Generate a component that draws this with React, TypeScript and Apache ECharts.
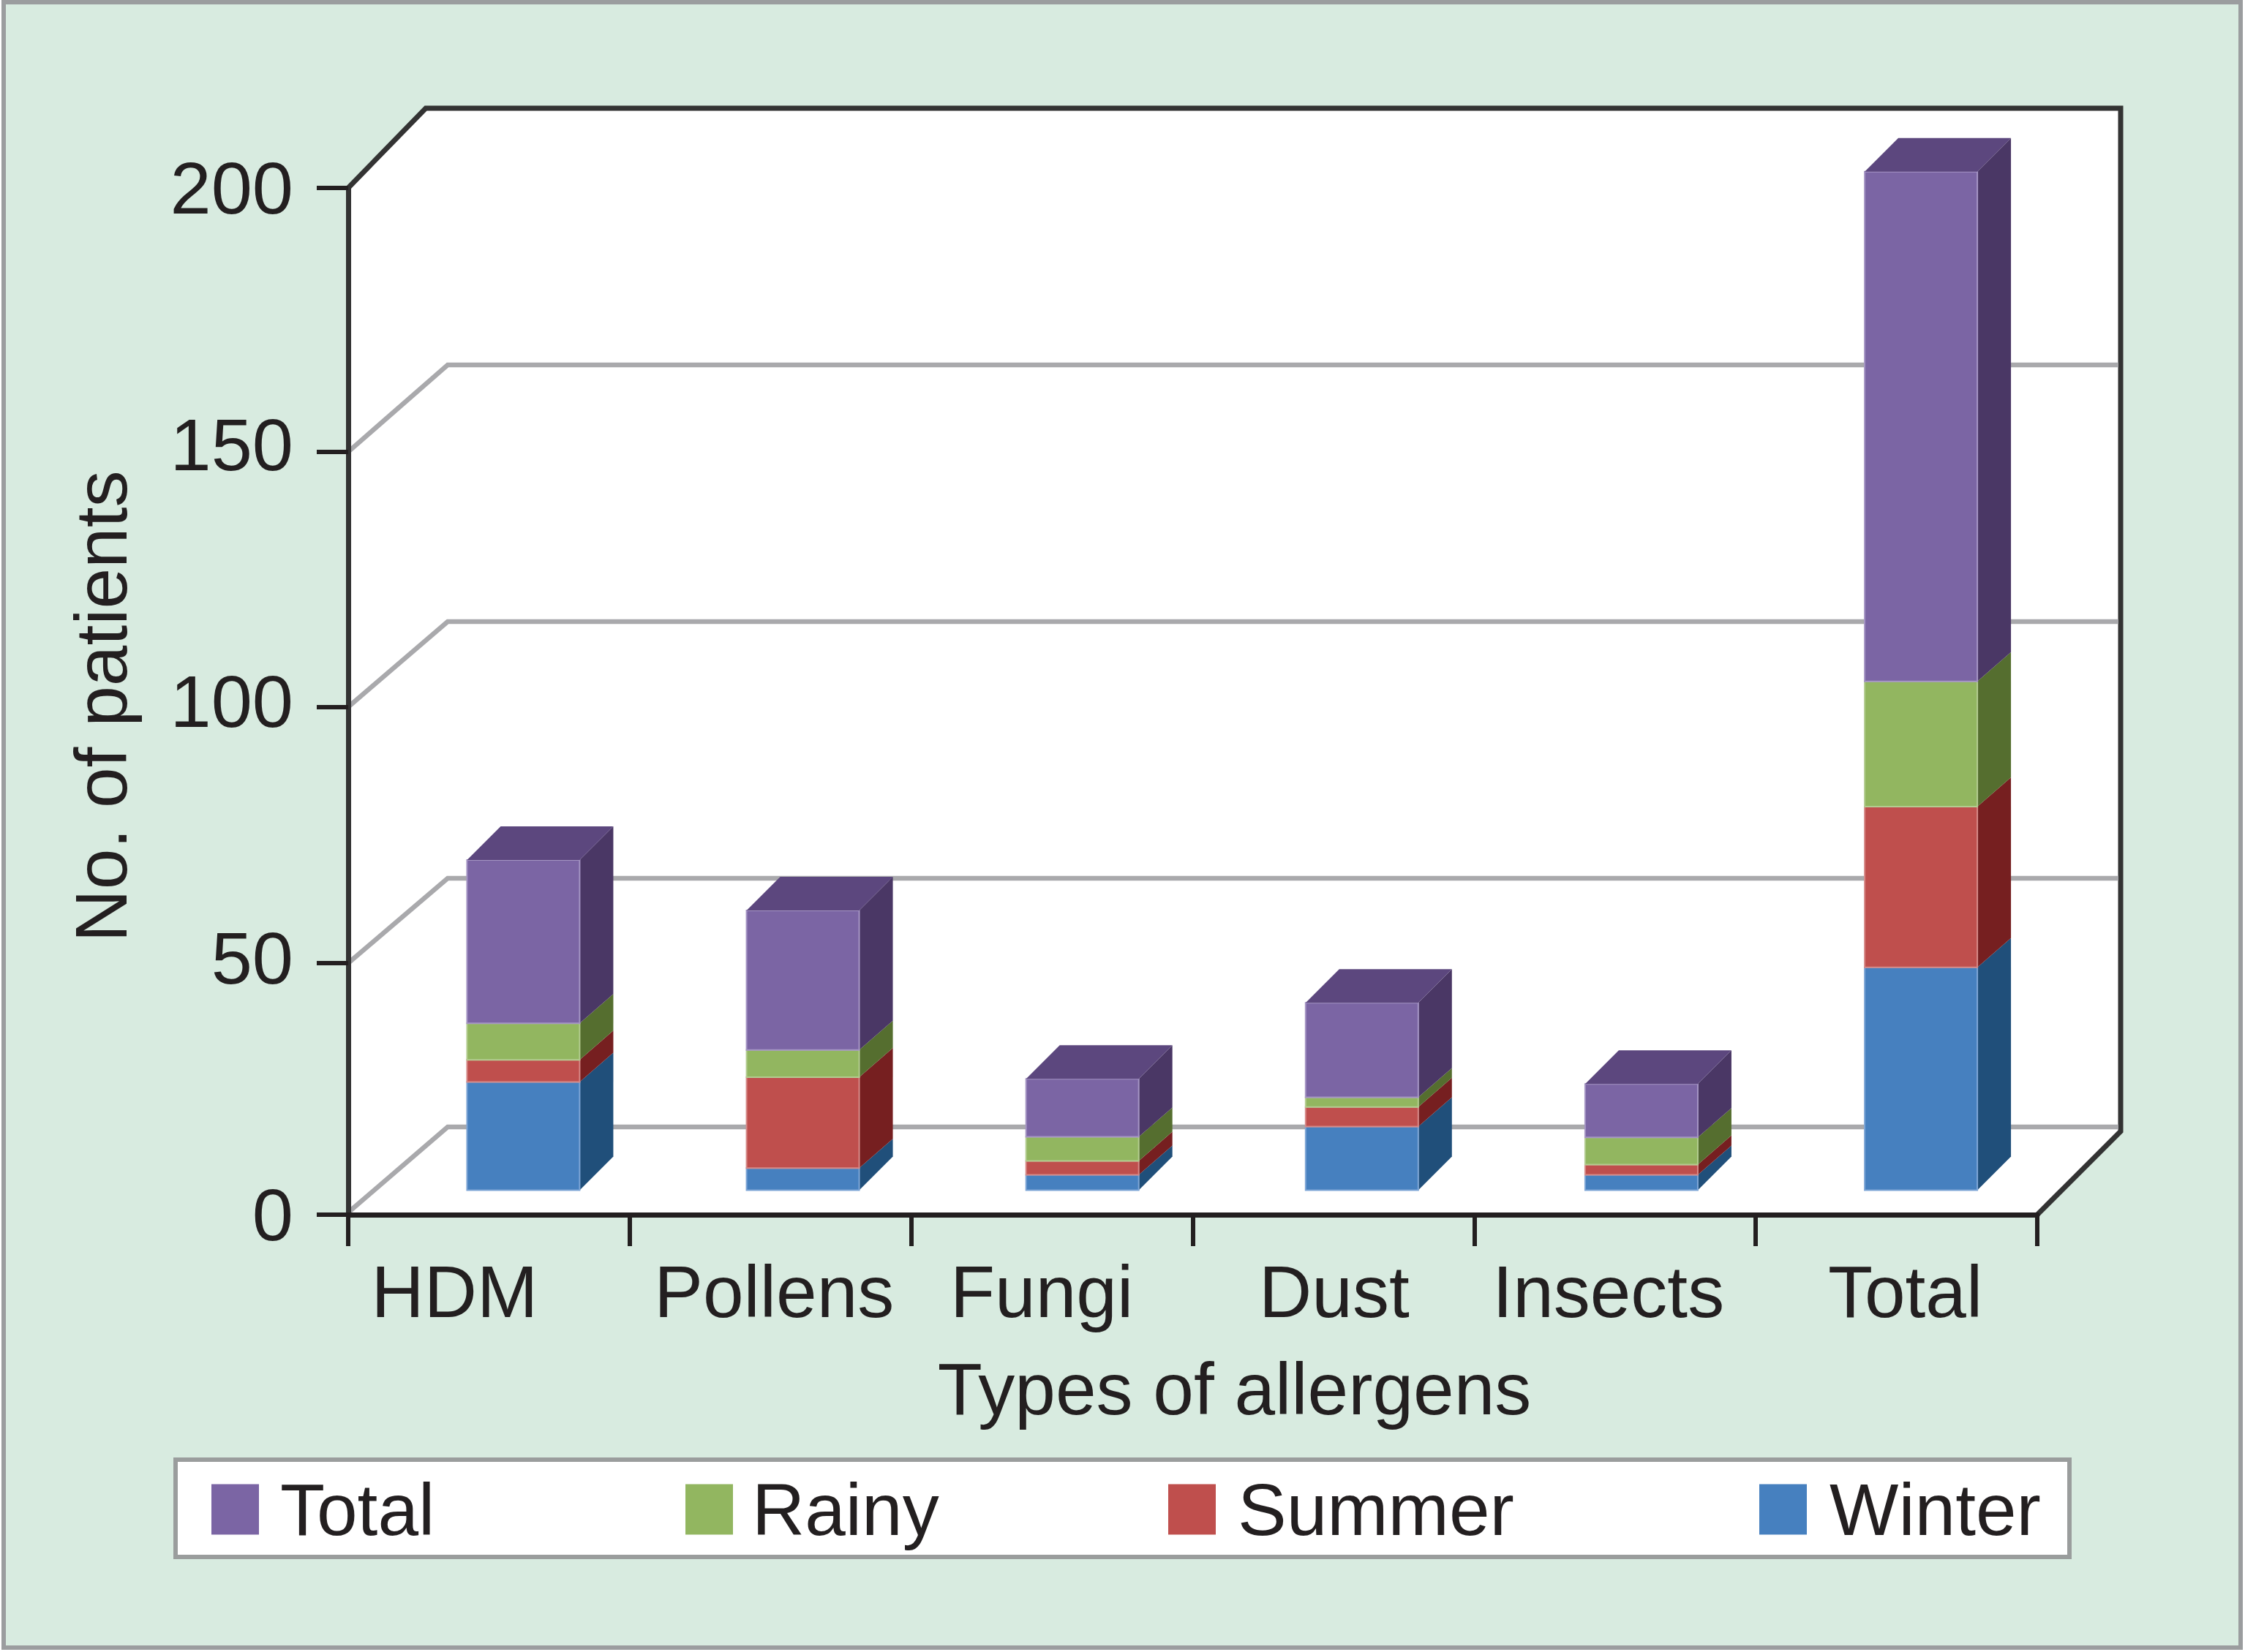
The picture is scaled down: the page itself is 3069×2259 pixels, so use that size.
import React, { useEffect, useRef } from "react";
import * as echarts from "echarts";

const categories = ["HDM", "Pollens", "Fungi", "Dust", "Insects", "Total"];
const winter = [21.1, 4.3, 3.0, 12.4, 3.0, 43.4];
const summer = [4.3, 17.7, 2.7, 3.8, 2.0, 31.3];
const rainy = [7.1, 5.3, 4.7, 1.9, 5.3, 24.4];
const totalSeason = [31.8, 27.2, 11.3, 18.4, 10.4, 99.3];
const gridValues = [200, 150, 100, 50, 0];
const tickValues = [200, 148.6, 98.9, 49, 0];

const labelShifts = [-47, 5, -14, 1, -9, 12];
const FONT = "Liberation Sans";
const INK = "#231f20";
const FRAME = "#333333";
const GRID = "#a9a9ac";

const palette: Record<string, { front: string; side: string; top: string; edge: string }> = {
  Winter: { front: "#4680bf", side: "#204f7a", top: "#204f7a", edge: "#7ea6d6" },
  Summer: { front: "#bf4f4d", side: "#761f20", top: "#761f20", edge: "#d68a88" },
  Rainy: { front: "#92b660", side: "#556e2f", top: "#556e2f", edge: "#b3cc90" },
  Total: { front: "#7b65a4", side: "#4a3765", top: "#5c477e", edge: "#a595c4" },
};

const stackOrder: [string, number[]][] = [
  ["Winter", winter],
  ["Summer", summer],
  ["Rainy", rainy],
  ["Total", totalSeason],
];

const BACK_DX = 136;
const BACK_DY = -109;
const BAR_DY = -33.5;
const BAR_W = 154;
const DEPTH_X = 46;
const DEPTH_END = -46;
const DEPTH_JOINT = -40;

function wallItem(params: any, api: any) {
  const cs = params.coordSys;
  const v = api.value(1);
  const y = api.coord([0, v])[1];
  const tickY = api.coord([0, api.value(2)])[1];
  const left = cs.x;
  const right = cs.x + cs.width;
  const bottom = cs.y + cs.height;
  const wallRight = 2899;
  if (v === 200) {
    const topY = y - 109;
    return {
      type: "group",
      children: [
        {
          type: "polygon",
          shape: {
            points: [
              [left, y],
              [left + 106, topY],
              [wallRight, topY],
              [wallRight, 1547],
              [right, bottom],
              [left, bottom],
            ],
          },
          style: { fill: "#ffffff" },
        },
        {
          type: "polyline",
          shape: { points: [[left, y], [left + 106, topY], [wallRight, topY], [wallRight, 1547], [right, bottom]] },
          style: { fill: "none", stroke: FRAME, lineWidth: 7 },
        },
      ],
    };
  }
  const backY = v === 0 ? bottom - 120 : y + BACK_DY;
  const startY = v === 0 ? bottom - 3 : tickY;
  return {
    type: "polyline",
    shape: { points: [[left, startY], [left + BACK_DX, backY], [wallRight - 3, backY]] },
    style: { fill: "none", stroke: GRID, lineWidth: 6.5 },
  };
}

function barItem(params: any, api: any) {
  const p = palette[params.seriesName];
  const isTop = params.seriesName === "Total";
  const isBottom = params.seriesName === "Winter";
  const cat = api.value(0);
  const base = api.coord([cat, api.value(1)]);
  const top = api.coord([cat, api.value(2)]);
  const offsetX = 47 - (13.5 * (base[0] - 668)) / 1924;
  const x0 = base[0] + offsetX - BAR_W / 2;
  const x1 = x0 + BAR_W;
  const yb = base[1] + BAR_DY;
  const yt = top[1] + BAR_DY;
  const dyBottom = isBottom ? DEPTH_END : DEPTH_JOINT;
  const dyTop = isTop ? DEPTH_END : DEPTH_JOINT;
  const children: any[] = [
    {
      type: "polygon",
      shape: { points: [[x1, yb], [x1 + DEPTH_X, yb + dyBottom], [x1 + DEPTH_X, yt + dyTop], [x1, yt]] },
      style: { fill: p.side },
    },
    {
      type: "rect",
      shape: { x: x0, y: yt, width: BAR_W, height: yb - yt },
      style: { fill: p.front, stroke: p.edge, lineWidth: 2 },
    },
  ];
  if (isTop) {
    children.push({
      type: "polygon",
      shape: { points: [[x0, yt], [x0 + DEPTH_X, yt + DEPTH_END], [x1 + DEPTH_X, yt + DEPTH_END], [x1, yt]] },
      style: { fill: p.top },
    });
  }
  return { type: "group", children };
}

function buildBarSeries() {
  const running = categories.map(() => 0);
  return stackOrder.map(([name, values]) => {
    const data = values.map((v, i) => {
      const row = [i, running[i], running[i] + v];
      running[i] += v;
      return row;
    });
    return {
      type: "custom",
      name,
      z: 3,
      coordinateSystem: "cartesian2d",
      renderItem: barItem,
      encode: { x: 0, y: [1, 2] },
      itemStyle: { color: palette[name].front },
      data,
      silent: true,
    };
  });
}

function legendEntry(name: string, left: number, textGap: number) {
  return {
    data: [name],
    left,
    top: 2014,
    padding: 0,
    orient: "horizontal",
    icon: "rect",
    itemWidth: 65,
    itemHeight: 69,
    selectedMode: false,
    textStyle: {
      fontFamily: FONT,
      fontSize: 100,
      color: INK,
      padding: [0, 0, 0, textGap],
    },
  };
}

export default function App() {
  const ref = useRef<HTMLDivElement>(null);
  useEffect(() => {
    if (!ref.current) return;
    const chart = echarts.init(ref.current, undefined, { renderer: "svg" });
    const rich: Record<string, any> = {};
    labelShifts.forEach((s, i) => {
      rich["c" + i] = {
        fontFamily: FONT,
        fontSize: 100,
        color: INK,
        padding: s < 0 ? [0, -2 * s, 0, 0] : [0, 0, 0, 2 * s],
      };
    });
    chart.setOption({
      animation: false,
      backgroundColor: "#ffffff",
      grid: { left: 476, top: 257, width: 2309, height: 1404, containLabel: false },
      graphic: {
        elements: [
          {
            type: "rect",
            z: -10,
            silent: true,
            shape: { x: 5, y: 3, width: 3058, height: 2250 },
            style: { fill: "#d8ebe0", stroke: "#9b9d9f", lineWidth: 6 },
          },
          {
            type: "rect",
            z: -9,
            silent: true,
            shape: { x: 240, y: 1996, width: 2589, height: 133 },
            style: { fill: "#ffffff", stroke: "#9a9d9d", lineWidth: 6 },
          },
        ],
      },
      xAxis: {
        type: "category",
        data: categories,
        z: 5,
        axisLine: { lineStyle: { color: INK, width: 7 } },
        axisTick: { show: true, length: 43, lineStyle: { color: INK, width: 6 } },
        axisLabel: {
          margin: 55,
          interval: 0,
          hideOverlap: false,
          formatter: (value: string, index: number) => `{c${index}|${value}}`,
          rich,
        },
        name: "Types of allergens",
        nameLocation: "middle",
        nameGap: 188,
        nameTextStyle: { fontFamily: FONT, fontSize: 100, color: INK, padding: [0, 0, 0, 114] },
      },
      yAxis: {
        type: "value",
        min: 0,
        max: 200,
        interval: 50,
        z: 5,
        splitLine: { show: false },
        axisLine: { show: true, lineStyle: { color: FRAME, width: 7 } },
        axisTick: {
          show: true,
          length: 43,
          customValues: tickValues,
          lineStyle: { color: INK, width: 6 },
        },
        axisLabel: { margin: 75, fontFamily: FONT, fontSize: 101, color: INK },
        name: "No. of patients",
        nameLocation: "middle",
        nameGap: 288,
        nameTextStyle: { fontFamily: FONT, fontSize: 100, color: INK, padding: [0, 14, 0, 0] },
      },
      legend: [
        legendEntry("Total", 289, 24),
        legendEntry("Rainy", 937, 21),
        legendEntry("Summer", 1597, 25),
        legendEntry("Winter", 2405, 26),
      ],
      series: [
        {
          type: "custom",
          name: "wall",
          z: 1,
          silent: true,
          coordinateSystem: "cartesian2d",
          renderItem: wallItem,
          encode: { x: 0, y: 1 },
          data: gridValues.map((v, i) => [0, v, tickValues[i]]),
        },
        ...buildBarSeries(),
      ],
    });
    return () => chart.dispose();
  }, []);
  return <div ref={ref} style={{ position: "absolute", left: 0, top: 0, width: 3069, height: 2259 }} />;
}
